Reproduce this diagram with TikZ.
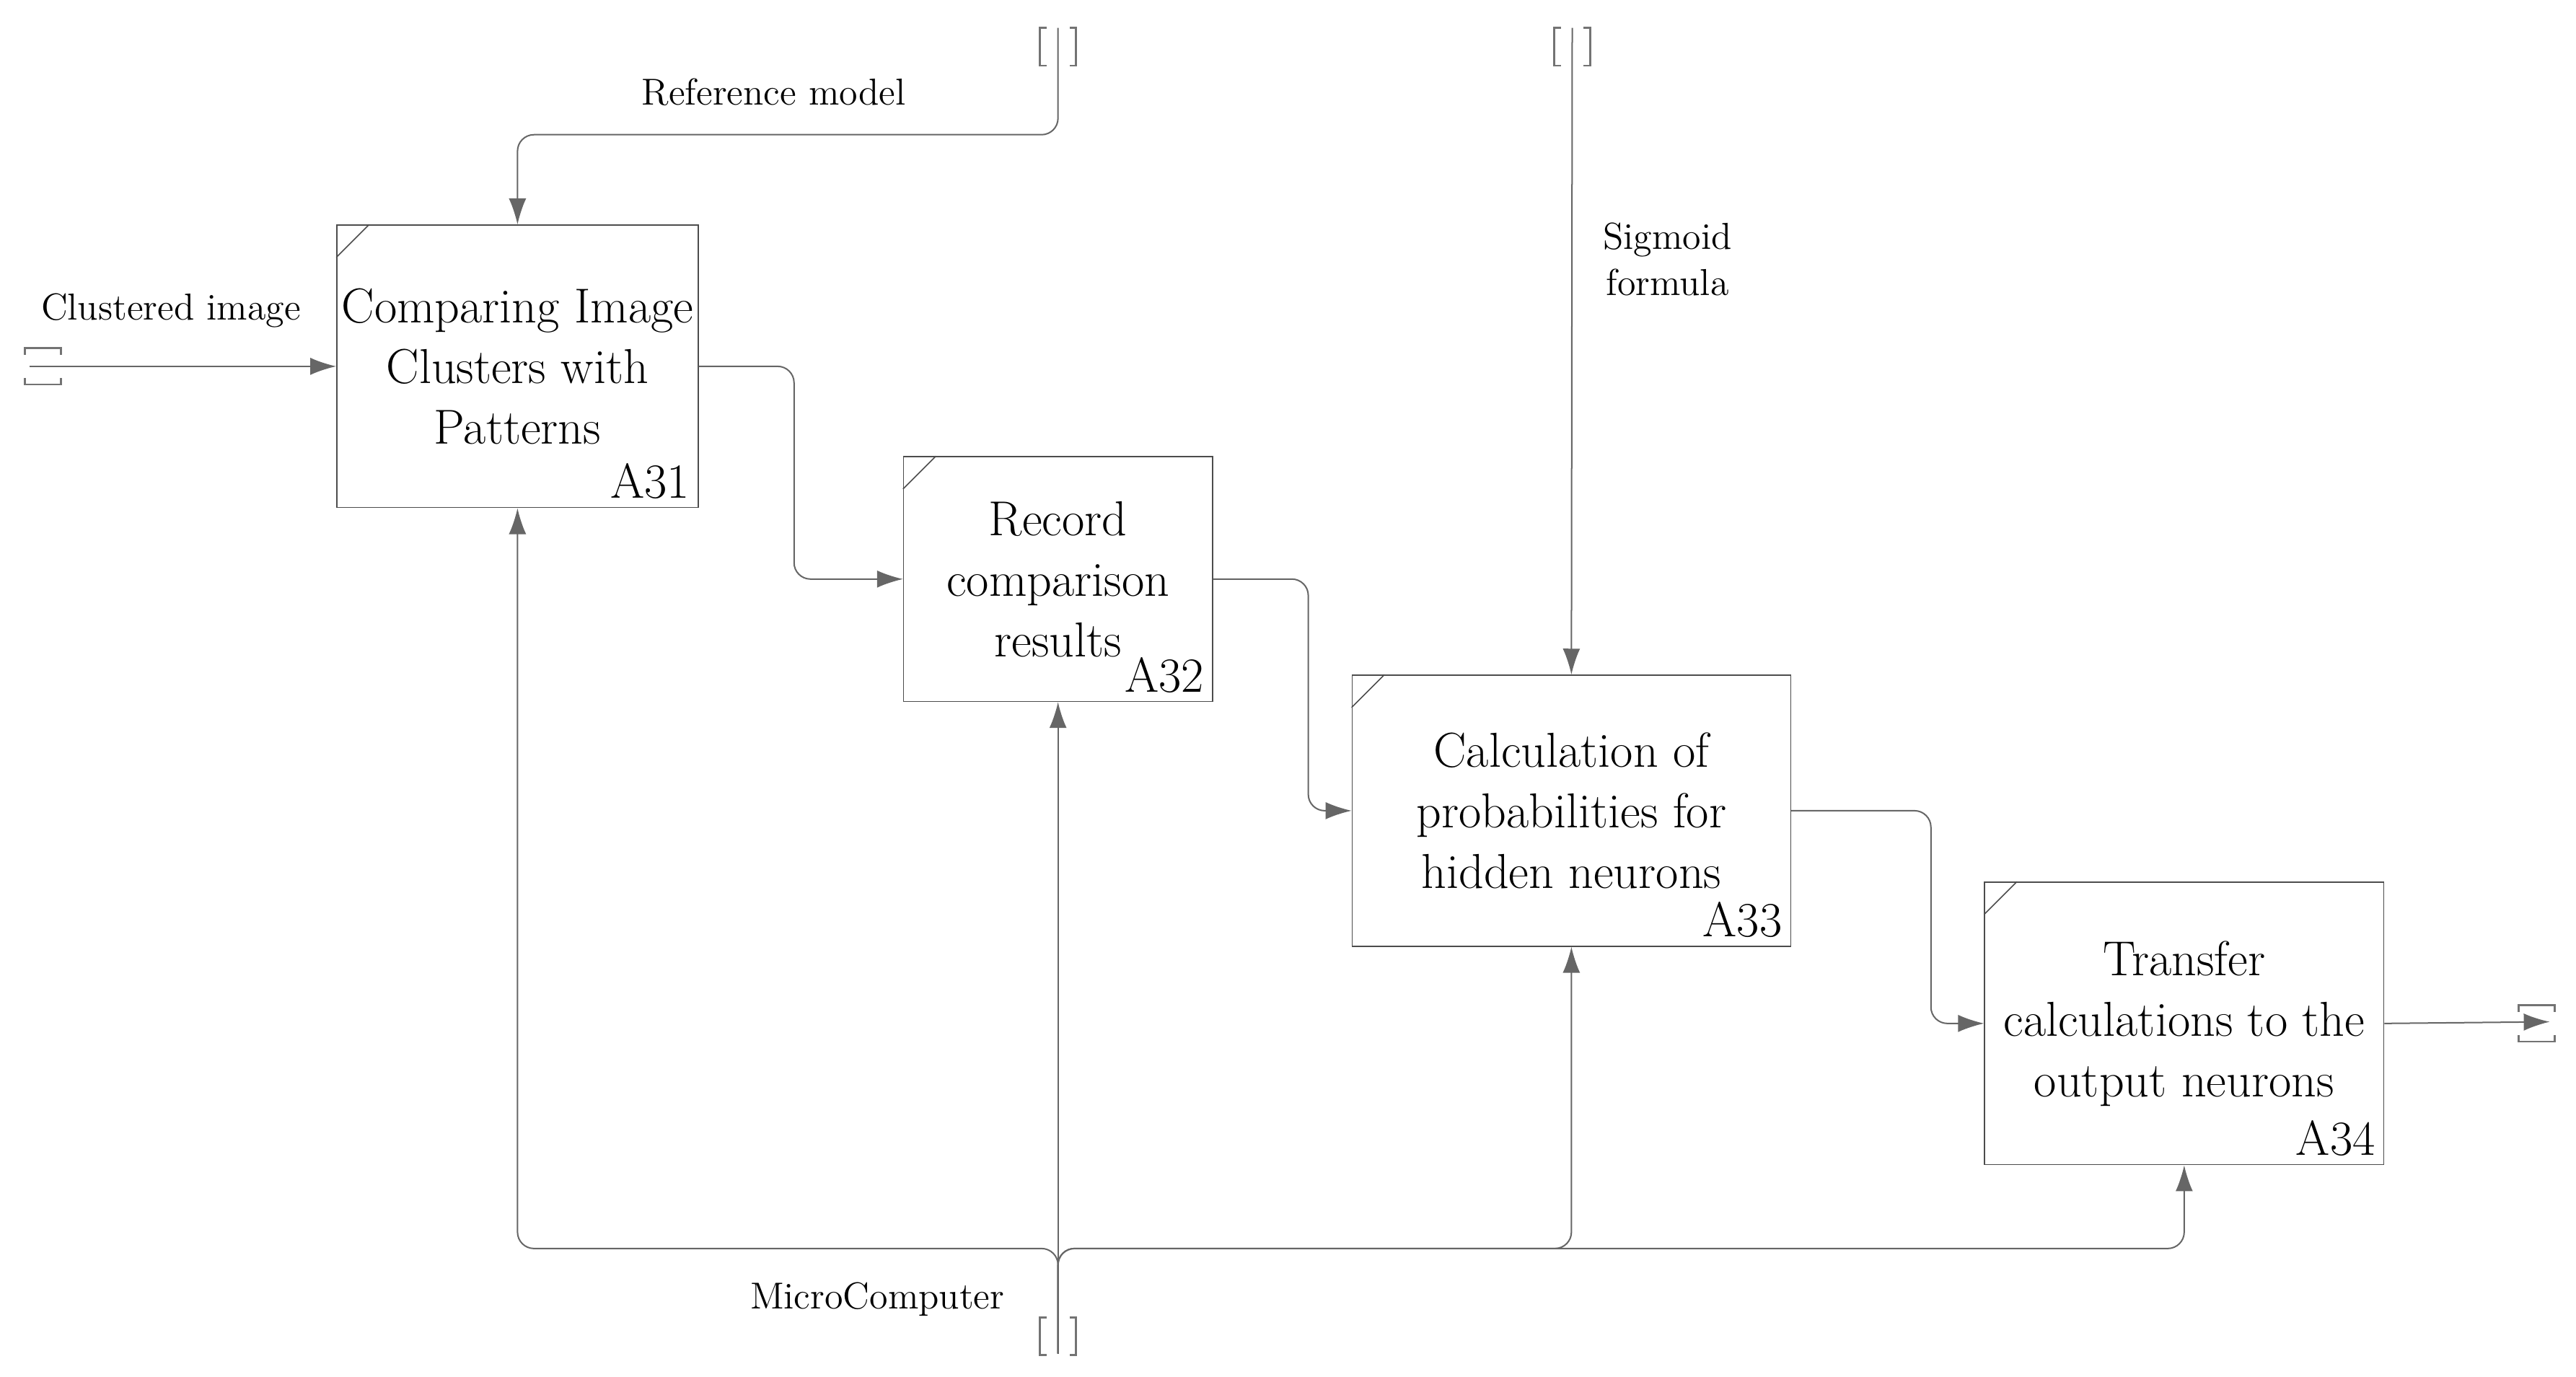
\documentclass[tikz,border=0pt]{standalone}
\usetikzlibrary{arrows.meta}

\tikzset{
  box/.style={draw=black!70, thin, align=center, inner sep=0pt,
    font=\fontsize{17}{21}\selectfont},
  arr/.style={draw=black!60, line width=0.5pt, -{Latex[length=9pt,width=6pt]}, rounded corners=0.2cm},
  lbl/.style={font=\fontsize{13}{16}\selectfont, align=center},
  tunnel/.style={draw=black!55, line width=0.7pt}
}
\newcommand{\vtun}[1]{\draw[tunnel,shift={(#1)}] (-7,0) -- (-11,0) -- (-11,23) -- (-7,23) (7,0) -- (11,0) -- (11,23) -- (7,23);}
\newcommand{\htun}[1]{\draw[tunnel,shift={(#1)}] (0,-7) -- (0,-11) -- (22,-11) -- (22,-7) (0,7) -- (0,11) -- (22,11) -- (22,7);}

\begin{document}
\begin{tikzpicture}[x=0.02cm,y=-0.02cm]
\useasboundingbox (0,0) rectangle (1568,838);

\node[box, minimum width=4.4cm, minimum height=3.44cm,
  label={[anchor=south east,inner sep=3pt,font=\fontsize{17}{21}\selectfont]south east:A31}]
  (a31) at (315,223) {Comparing Image\\Clusters with\\Patterns};
\node[box, minimum width=3.76cm, minimum height=2.98cm,
  label={[anchor=south east,inner sep=3pt,font=\fontsize{17}{21}\selectfont]south east:A32}]
  (a32) at (644,352.5) {Record\\comparison\\results};
\node[box, minimum width=5.34cm, minimum height=3.3cm,
  label={[anchor=south east,inner sep=3pt,font=\fontsize{17}{21}\selectfont]south east:A33}]
  (a33) at (956.5,493.5) {Calculation of\\probabilities for\\hidden neurons};
\node[box, minimum width=4.86cm, minimum height=3.44cm,
  label={[anchor=south east,inner sep=3pt,font=\fontsize{17}{21}\selectfont]south east:A34}]
  (a34) at (1329.5,623) {Transfer\\calculations to the\\output neurons};

% corner marks
\foreach \n in {a31,a32,a33,a34}
  \draw[black!70] ([yshift=-0.4cm]\n.north west) -- ([xshift=0.4cm]\n.north west);

% tunnels
\coordinate (tin) at (18,223);
\coordinate (tref) at (644,17);
\coordinate (tsig) at (957,17);
\coordinate (tout) at (1552,622);
\coordinate (tmech) at (644,824);
\htun{15,223}
\htun{1533,623}
\vtun{644,17}
\vtun{957,17}
\vtun{644,802}

% inputs and controls
\draw[arr] (tin) -- (a31.west);
\draw[arr] (tref) |- (a31.north |- 0,82) -- (a31.north);
\draw[arr] (tsig) -- (a33.north);

% flow
\draw[arr] (a31.east) -- ++(58,0) |- (a32.west);
\draw[arr] (a32.east) -- ++(58,0) |- (a33.west);
\draw[arr] (a33.east) -- ++(85,0) |- (a34.west);
\draw[arr] (a34.east) -- (tout);

% mechanism
\draw[arr] (tmech) -- (a32.south);
\draw[arr] (tmech) |- (a31.south |- 0,760) -- (a31.south);
\draw[arr] (tmech) |- (a33.south |- 0,760) -- (a33.south);
\draw[arr] (tmech) |- (a34.south |- 0,760) -- (a34.south);

% labels
\node[lbl] (lref) at (471,56) {Reference model};
\node[lbl] (lin) at (104,189) {Clustered image};
\node[lbl] (lsig) at (1015,158) {Sigmoid\\formula};
\node[lbl] (lmech) at (534,791) {MicroComputer};
\end{tikzpicture}
\end{document}
